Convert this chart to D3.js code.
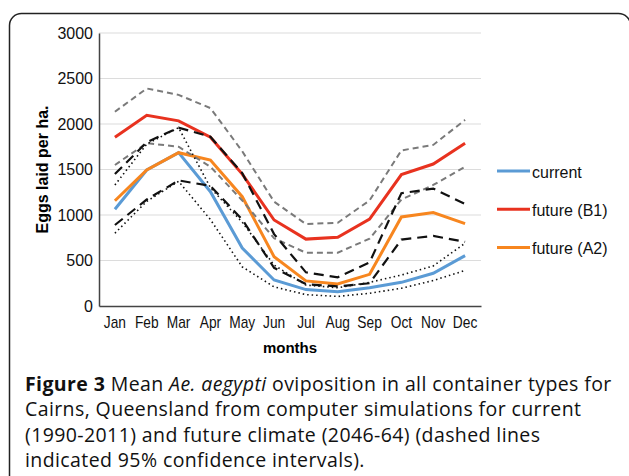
<html>
<head>
<script src="https://d3js.org/d3.v7.min.js"></script>
<style>
  body { margin: 0; background: #fff; }
  svg text { font-family: "Liberation Sans", Arial, sans-serif; }
  .cap { font-family: "Open Sans", "Noto Sans", sans-serif !important; }
</style>
</head>
<body>
<svg id="chart" width="629" height="476"></svg>
<script>
// data
var months = ["Jan","Feb","Mar","Apr","May","Jun","Jul","Aug","Sep","Oct","Nov","Dec"];
var yTicks = [0, 500, 1000, 1500, 2000, 2500, 3000];

var current   = [1063, 1495, 1685, 1256, 637, 286, 180, 157, 200, 260, 360, 553];
var futureB1  = [1855, 2095, 2035, 1855, 1450, 945, 735, 755, 955, 1445, 1560, 1788];
var futureA2  = [1157, 1495, 1685, 1604, 1201, 542, 276, 242, 348, 978, 1027, 905];

var currentHi = [1330, 1780, 1960, 1300, 920, 450, 230, 200, 260, 340, 440, 690];
var currentLo = [800, 1150, 1370, 950, 430, 210, 125, 105, 140, 195, 280, 390];
var b1Hi      = [2135, 2390, 2320, 2175, 1700, 1146, 900, 915, 1160, 1710, 1770, 2045];
var b1Lo      = [1550, 1790, 1750, 1530, 1160, 744, 585, 586, 740, 1170, 1330, 1530];
var a2Hi      = [1450, 1800, 1960, 1860, 1460, 790, 370, 315, 480, 1240, 1290, 1120];
var a2Lo      = [890, 1170, 1380, 1320, 950, 420, 240, 215, 250, 730, 770, 705];

var legendNames = ["current", "future (B1)", "future (A2)"];

var svg = d3.select("#chart");

// frame
svg.append("rect")
  .attr("x", 9.5).attr("y", 13.5)
  .attr("width", 621).attr("height", 520)
  .attr("rx", 12)
  .attr("fill", "none")
  .attr("stroke", "#222")
  .attr("stroke-width", 1.5);

var pLeft = 99, pRight = 481, pTop = 33, pBottom = 306;
var x = d3.scaleBand().domain(months).range([pLeft, pRight]);
var y = d3.scaleLinear().domain([0, 3000]).range([pBottom, pTop]);

// gridlines
svg.append("g")
  .selectAll("line")
  .data(yTicks.slice(1))
  .enter().append("line")
  .attr("x1", pLeft).attr("x2", pRight)
  .attr("y1", function(d) { return y(d); })
  .attr("y2", function(d) { return y(d); })
  .attr("stroke", "#dcdcdc")
  .attr("stroke-width", 1.2);

// y axis
var yAxis = svg.append("g")
  .attr("transform", "translate(" + pLeft + ",0)")
  .call(d3.axisLeft(y).tickValues(yTicks).tickFormat(d3.format("d"))
          .tickSize(0).tickSizeOuter(0).tickPadding(6));
yAxis.select(".domain").attr("stroke", "#444").attr("stroke-width", 1.5);
yAxis.selectAll("text").style("font-size", "16px").attr("fill", "#111");

// x axis
var xAxis = svg.append("g")
  .attr("transform", "translate(0," + pBottom + ")")
  .call(d3.axisBottom(x).tickSize(0).tickSizeOuter(0).tickPadding(11));
xAxis.select(".domain").attr("stroke", "#444").attr("stroke-width", 1.5);
xAxis.selectAll("text")
  .style("font-size", "16px")
  .attr("fill", "#111")
  .attr("transform", "scale(0.86,1)");

// axis titles
svg.append("text")
  .attr("x", (pLeft + pRight) / 2)
  .attr("y", 353)
  .attr("text-anchor", "middle")
  .style("font-size", "15px")
  .style("font-weight", "bold")
  .text("months");

svg.append("text")
  .attr("transform", "translate(48," + ((pTop + pBottom) / 2) + ") rotate(-90)")
  .attr("text-anchor", "middle")
  .style("font-size", "16px")
  .style("font-weight", "bold")
  .text("Eggs laid per ha.");

var line = d3.line()
  .x(function(d, i) { return x(months[i]) + x.bandwidth() / 2; })
  .y(function(d) { return y(d); });

// main series
var mains = [
  {v: current,  c: "#5b9bd5"},
  {v: futureB1, c: "#e8321f"},
  {v: futureA2, c: "#f7861f"}
];
mains.forEach(function(s) {
  svg.append("path")
    .attr("d", line(s.v))
    .attr("fill", "none")
    .attr("stroke", s.c)
    .attr("stroke-width", 3);
});

// confidence intervals
var cis = [
  {v: b1Hi, c: "#7a7a7a", w: 2, dash: "6,4"},
  {v: b1Lo, c: "#7a7a7a", w: 2, dash: "6,4"},
  {v: a2Hi, c: "#111", w: 2.2, dash: "10,6"},
  {v: a2Lo, c: "#111", w: 2.2, dash: "10,6"},
  {v: currentHi, c: "#111", w: 1.6, dash: "1.5,3"},
  {v: currentLo, c: "#111", w: 1.6, dash: "1.5,3"}
];
cis.forEach(function(s) {
  svg.append("path")
    .attr("d", line(s.v))
    .attr("fill", "none")
    .attr("stroke", s.c)
    .attr("stroke-width", s.w)
    .attr("stroke-dasharray", s.dash);
});

// legend
var legend = svg.append("g").attr("transform", "translate(497,171)");
legend.selectAll("line")
  .data(legendNames)
  .enter().append("line")
  .attr("x1", 0).attr("x2", 33)
  .attr("y1", function(d, i) { return i * 38.3; })
  .attr("y2", function(d, i) { return i * 38.3; })
  .attr("stroke", function(d, i) { return mains[i].c; })
  .attr("stroke-width", 3);
legend.selectAll("text")
  .data(legendNames)
  .enter().append("text")
  .attr("x", 35)
  .attr("y", function(d, i) { return i * 38.3 + 6.5; })
  .style("font-size", "16px")
  .attr("fill", "#111")
  .text(function(d) { return d; });

// caption
var cap = svg.append("text")
  .attr("class", "cap")
  .attr("x", 25)
  .attr("y", 391)
  .style("font-size", "19.5px")
  .style("letter-spacing", "0.4px")
  .attr("fill", "#111");
var l1 = cap.append("tspan").attr("x", 25).attr("y", 391);
l1.append("tspan").style("font-weight", "bold").text("Figure 3");
l1.append("tspan").text(" Mean ");
l1.append("tspan").style("font-style", "italic").text("Ae. aegypti");
l1.append("tspan").text(" oviposition in all container types for");
var rest = ["Cairns, Queensland from computer simulations for current",
            "(1990-2011) and future climate (2046-64) (dashed lines",
            "indicated 95% confidence intervals)."];
rest.forEach(function(t, i) {
  cap.append("tspan").attr("x", 25).attr("y", 391 + (i + 1) * 25.3).text(t);
});
</script>
</body>
</html>
